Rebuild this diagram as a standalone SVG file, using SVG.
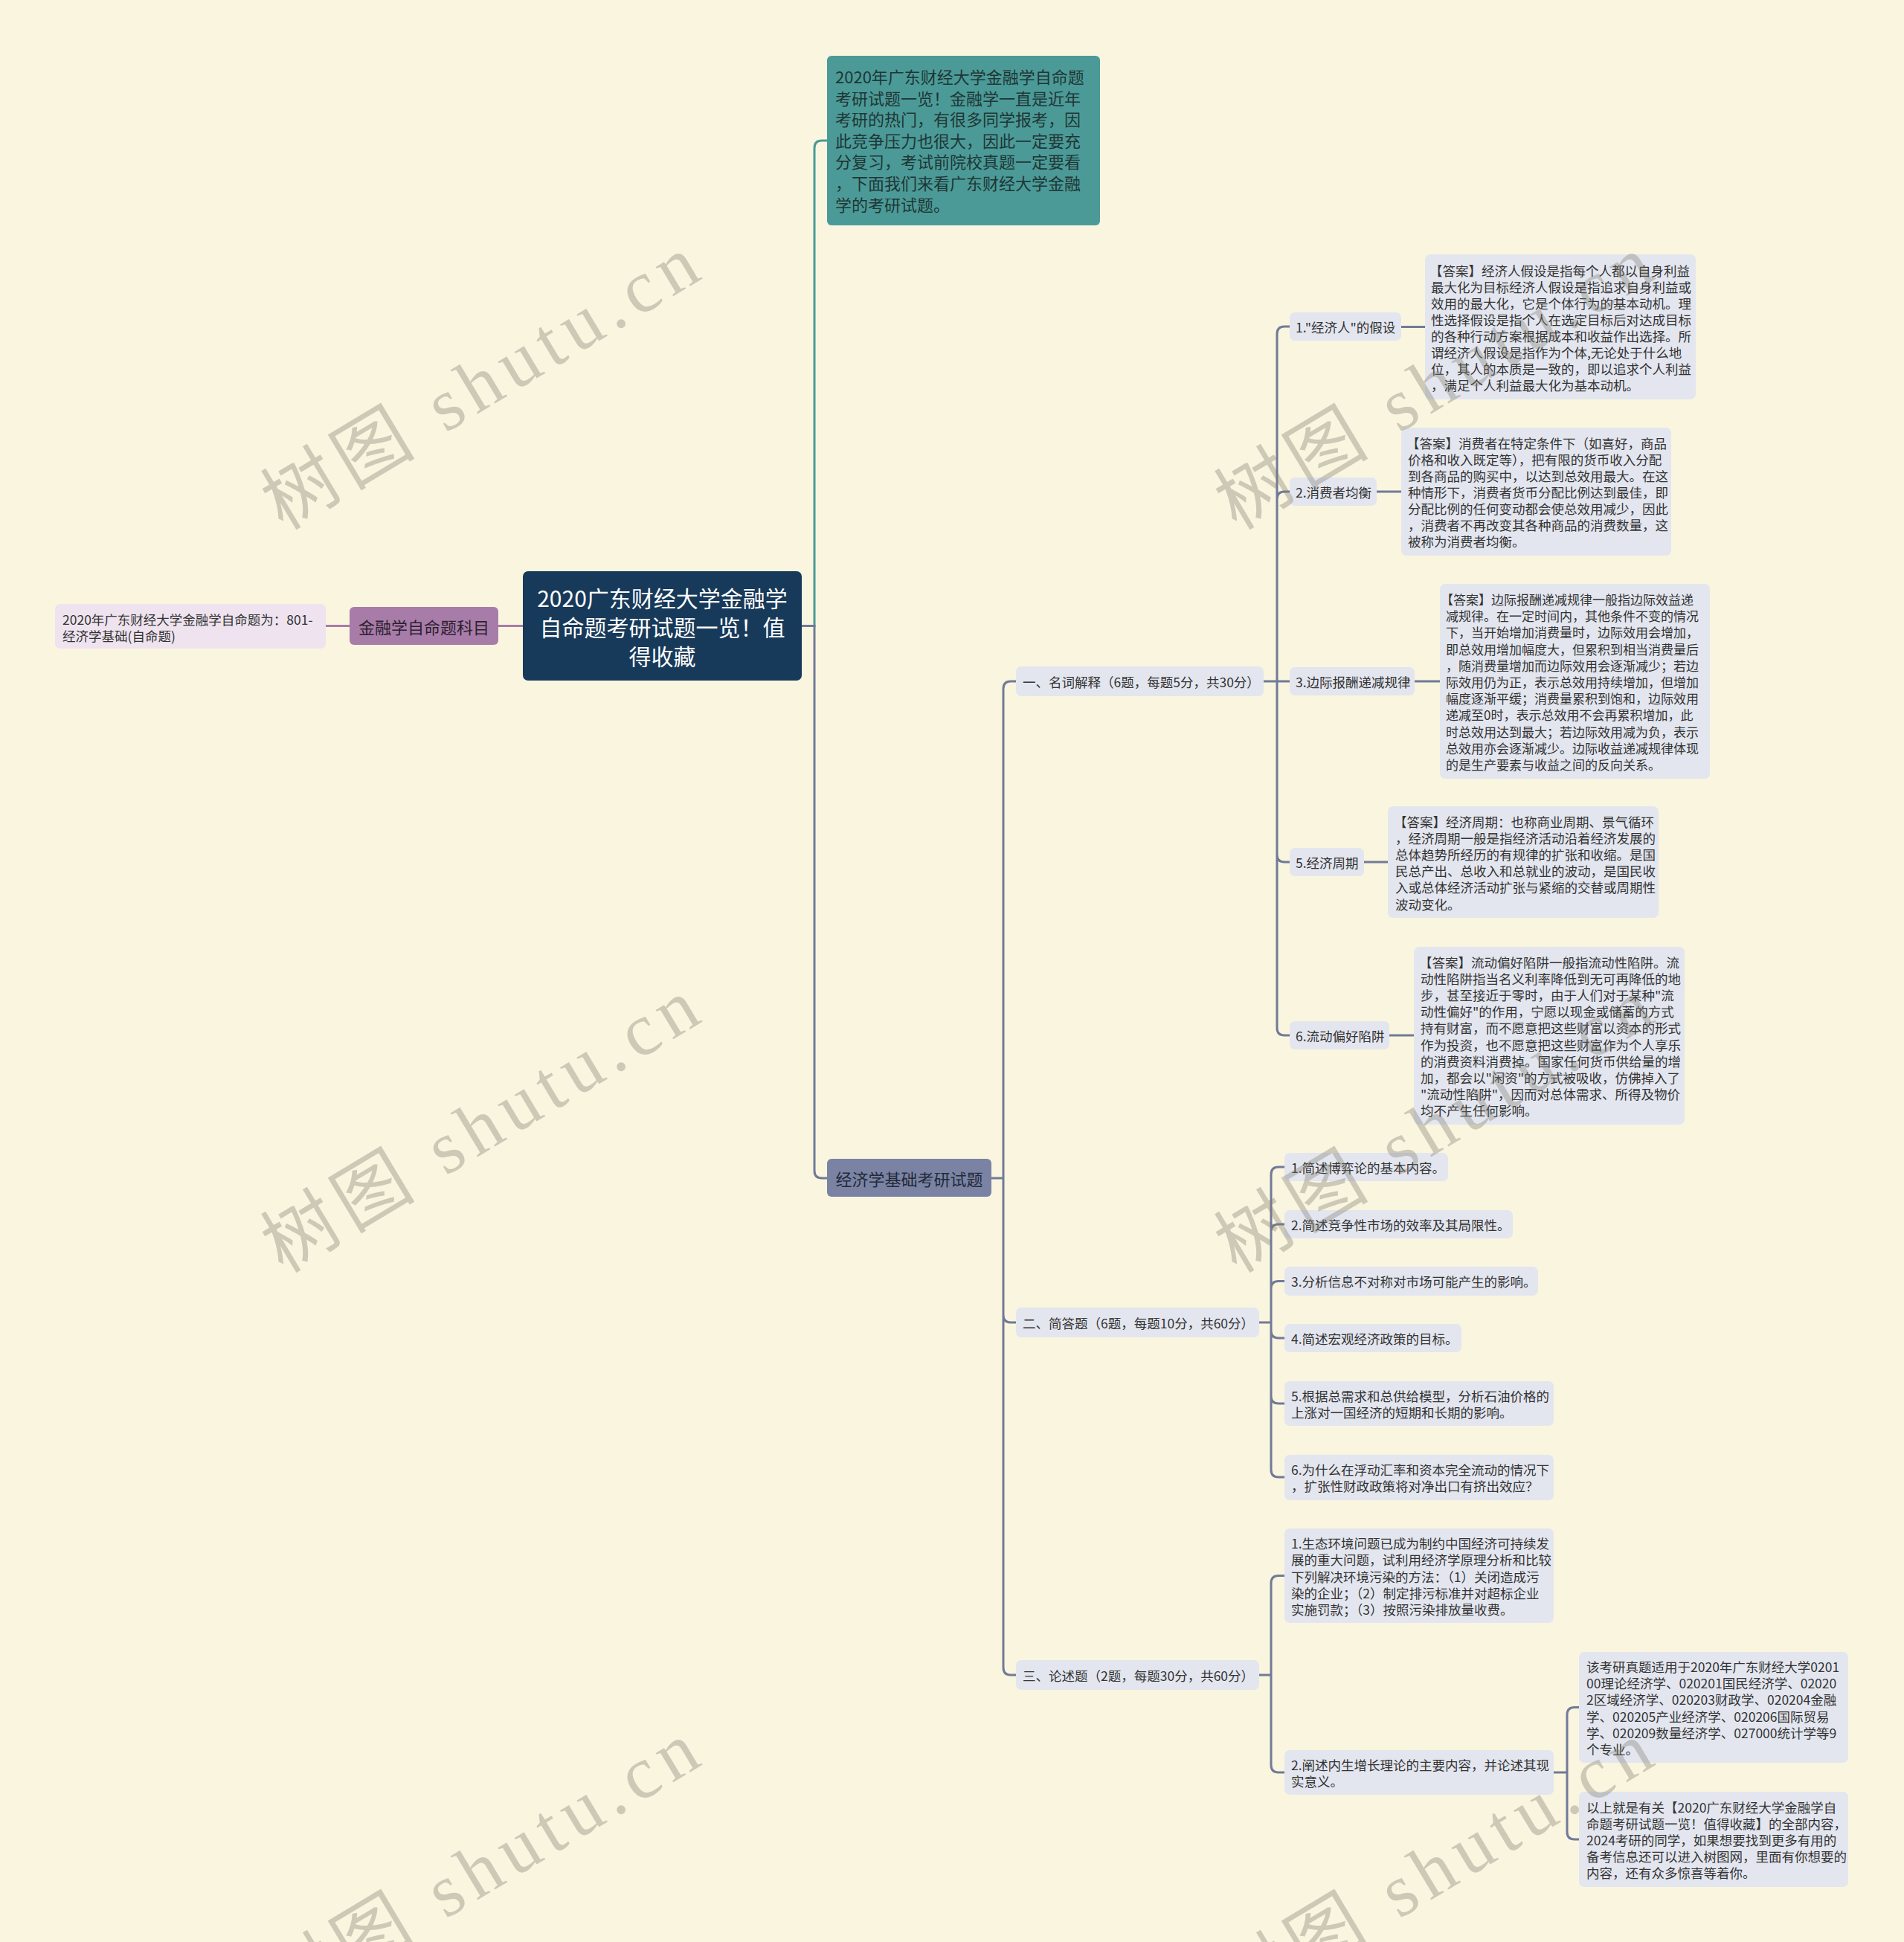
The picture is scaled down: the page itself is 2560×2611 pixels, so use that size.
<svg xmlns="http://www.w3.org/2000/svg" width="2560" height="2611" viewBox="0 0 2560 2611">
<style>
.t{font-family:"Noto Sans CJK SC","Noto Sans",sans-serif;dominant-baseline:central}
.sm{font-size:17.5px;fill:#333}
.leaf{fill:#e3e6ef}
.c{fill:none;stroke-width:3;stroke-linecap:round}
.s{stroke:#717a97}
.wm{font-family:"Liberation Serif","Noto Sans CJK SC",serif;font-size:100px;fill:#7d7a70;opacity:0.35;text-anchor:middle;dominant-baseline:central}
</style>
<rect width="2560" height="2611" fill="#faf5df"/>

<g id="connectors">
<path class="c" stroke="#a87ca9" d="M703,841.5 H670 M470,841.5 H438"/>
<path class="c" stroke="#4a9a96" d="M1078,841.5 H1095 V199 Q1095,189 1105,189 H1112"/>
<path class="c s" d="M1078,841.5 H1095 V1574 Q1095,1584 1105,1584 H1112"/>
<path class="c s" d="M1333,1584 H1349 V926 Q1349,916 1359,916 H1366 M1349,1584 V1768 Q1349,1778 1359,1778 H1366 M1349,1584 V2242 Q1349,2252 1359,2252 H1366"/>
<path class="c s" d="M1699,916 H1717 V449 Q1717,439 1727,439 H1734 M1717,916 V671 Q1717,661 1727,661 H1734 M1717,916 H1734 M1717,916 V1149 Q1717,1159 1727,1159 H1734 M1717,916 V1382 Q1717,1392 1727,1392 H1734"/>
<path class="c s" d="M1884,439.5 H1916 M1851,661 H1884 M1902,916 H1936 M1834,1159 H1866 M1868,1392 H1901"/>
<path class="c s" d="M1693,1778 H1709 V1579 Q1709,1569 1719,1569 H1727 M1709,1778 V1656 Q1709,1646 1719,1646 H1727 M1709,1778 V1732.5 Q1709,1722.5 1719,1722.5 H1727 M1709,1778 V1789 Q1709,1799 1719,1799 H1727 M1709,1778 V1877 Q1709,1887 1719,1887 H1727 M1709,1778 V1976 Q1709,1986 1719,1986 H1727"/>
<path class="c s" d="M1693,2252 H1709 V2128.5 Q1709,2118.5 1719,2118.5 H1727 M1709,2252 V2373 Q1709,2383 1719,2383 H1727"/>
<path class="c s" d="M2089,2383 H2107 V2305.5 Q2107,2295.5 2117,2295.5 H2123 M2107,2383 V2463 Q2107,2473 2117,2473 H2123"/>
</g>

<g id="root">
<rect x="703" y="768" width="375" height="147" rx="7" fill="#183a5a"/>
<text class="t" font-size="30" fill="#fff" text-anchor="middle"><tspan x="890.5" y="803">2020广东财经大学金融学</tspan><tspan x="890.5" y="842">自命题考研试题一览！值</tspan><tspan x="890.5" y="881">得收藏</tspan></text>
</g>

<g id="intro">
<rect x="1112" y="75" width="367" height="228" rx="6" fill="#4b9a97"/>
<text class="t" font-size="22" fill="#1f3636"><tspan x="1123" y="102">2020年广东财经大学金融学自命题</tspan><tspan x="1123" y="130.6">考研试题一览！金融学一直是近年</tspan><tspan x="1123" y="159.2">考研的热门，有很多同学报考，因</tspan><tspan x="1123" y="187.8">此竞争压力也很大，因此一定要充</tspan><tspan x="1123" y="216.4">分复习，考试前院校真题一定要看</tspan><tspan x="1123" y="245">，下面我们来看广东财经大学金融</tspan><tspan x="1123" y="273.6">学的考研试题。</tspan></text>
</g>

<g id="left-topic">
<rect x="470" y="816" width="200" height="51" rx="6" fill="#a87ca9"/>
<text class="t" font-size="22" fill="#2d1f30" x="570" y="841.5" text-anchor="middle">金融学自命题科目</text>
</g>
<g id="left-leaf">
<rect x="74" y="812" width="364" height="60" rx="7" fill="#eee3ef"/>
<text class="t sm"><tspan x="84" y="832">2020年广东财经大学金融学自命题为：801-</tspan><tspan x="84" y="853.5">经济学基础(自命题)</tspan></text>
</g>

<g id="econ">
<rect x="1112" y="1558" width="221" height="51" rx="6" fill="#7a83a3"/>
<text class="t" font-size="22" fill="#222a3a" x="1222.5" y="1584" text-anchor="middle">经济学基础考研试题</text>
</g>

<g id="sec1">
<rect class="leaf" x="1366" y="896" width="333" height="40" rx="7"/>
<text class="t sm" x="1375" y="916">一、名词解释（6题，每题5分，共30分）</text>
</g>
<g id="sec2">
<rect class="leaf" x="1366" y="1758" width="327" height="40" rx="7"/>
<text class="t sm" x="1375" y="1778">二、简答题（6题，每题10分，共60分）</text>
</g>
<g id="sec3">
<rect class="leaf" x="1366" y="2232" width="327" height="40" rx="7"/>
<text class="t sm" x="1375" y="2252">三、论述题（2题，每题30分，共60分）</text>
</g>

<g id="term1">
<rect class="leaf" x="1734" y="420" width="150" height="38" rx="7"/>
<text class="t sm" x="1742" y="439.5">1."经济人"的假设</text>
</g>
<g id="ans1">
<rect class="leaf" x="1916" y="342" width="364" height="195" rx="7"/>
<text class="t sm"><tspan x="1922" y="363">【答案】经济人假设是指每个人都以自身利益</tspan><tspan x="1924" y="385">最大化为目标经济人假设是指追求自身利益或</tspan><tspan x="1924" y="407">效用的最大化，它是个体行为的基本动机。理</tspan><tspan x="1924" y="429">性选择假设是指个人在选定目标后对达成目标</tspan><tspan x="1924" y="451">的各种行动方案根据成本和收益作出选择。所</tspan><tspan x="1924" y="473">谓经济人假设是指作为个体,无论处于什么地</tspan><tspan x="1924" y="495">位，其人的本质是一致的，即以追求个人利益</tspan><tspan x="1924" y="517">，满足个人利益最大化为基本动机。</tspan></text>
</g>

<g id="term2">
<rect class="leaf" x="1734" y="642" width="117" height="38" rx="7"/>
<text class="t sm" x="1742" y="661">2.消费者均衡</text>
</g>
<g id="ans2">
<rect class="leaf" x="1884" y="575" width="363" height="172" rx="7"/>
<text class="t sm"><tspan x="1891" y="595">【答案】消费者在特定条件下（如喜好，商品</tspan><tspan x="1893" y="617">价格和收入既定等），把有限的货币收入分配</tspan><tspan x="1893" y="639">到各商品的购买中，以达到总效用最大。在这</tspan><tspan x="1893" y="661">种情形下，消费者货币分配比例达到最佳，即</tspan><tspan x="1893" y="683">分配比例的任何变动都会使总效用减少，因此</tspan><tspan x="1893" y="705">，消费者不再改变其各种商品的消费数量，这</tspan><tspan x="1893" y="727">被称为消费者均衡。</tspan></text>
</g>

<g id="term3">
<rect class="leaf" x="1734" y="897" width="168" height="38" rx="7"/>
<text class="t sm" x="1742" y="916">3.边际报酬递减规律</text>
</g>
<g id="ans3">
<rect class="leaf" x="1936" y="785" width="363" height="262" rx="7"/>
<text class="t" font-size="17" fill="#333"><tspan x="1937" y="805">【答案】边际报酬递减规律一般指边际效益递</tspan><tspan x="1944" y="827.2">减规律。在一定时间内，其他条件不变的情况</tspan><tspan x="1944" y="849.4">下，当开始增加消费量时，边际效用会增加，</tspan><tspan x="1944" y="871.6">即总效用增加幅度大，但累积到相当消费量后</tspan><tspan x="1944" y="893.8">，随消费量增加而边际效用会逐渐减少；若边</tspan><tspan x="1944" y="916">际效用仍为正，表示总效用持续增加，但增加</tspan><tspan x="1944" y="938.2">幅度逐渐平缓；消费量累积到饱和，边际效用</tspan><tspan x="1944" y="960.4">递减至0时，表示总效用不会再累积增加，此</tspan><tspan x="1944" y="982.6">时总效用达到最大；若边际效用减为负，表示</tspan><tspan x="1944" y="1004.8">总效用亦会逐渐减少。边际收益递减规律体现</tspan><tspan x="1944" y="1027">的是生产要素与收益之间的反向关系。</tspan></text>
</g>

<g id="term5">
<rect class="leaf" x="1734" y="1140" width="100" height="38" rx="7"/>
<text class="t sm" x="1742" y="1159">5.经济周期</text>
</g>
<g id="ans5">
<rect class="leaf" x="1866" y="1084" width="364" height="150" rx="7"/>
<text class="t sm"><tspan x="1874" y="1103.5">【答案】经济周期：也称商业周期、景气循环</tspan><tspan x="1876" y="1125.7">，经济周期一般是指经济活动沿着经济发展的</tspan><tspan x="1876" y="1147.9">总体趋势所经历的有规律的扩张和收缩。是国</tspan><tspan x="1876" y="1170.1">民总产出、总收入和总就业的波动，是国民收</tspan><tspan x="1876" y="1192.3">入或总体经济活动扩张与紧缩的交替或周期性</tspan><tspan x="1876" y="1214.5">波动变化。</tspan></text>
</g>

<g id="term6">
<rect class="leaf" x="1734" y="1373" width="134" height="38" rx="7"/>
<text class="t sm" x="1742" y="1392">6.流动偏好陷阱</text>
</g>
<g id="ans6">
<rect class="leaf" x="1901" y="1273" width="364" height="239" rx="7"/>
<text class="t sm"><tspan x="1908" y="1292.6">【答案】流动偏好陷阱一般指流动性陷阱。流</tspan><tspan x="1910" y="1314.8">动性陷阱指当名义利率降低到无可再降低的地</tspan><tspan x="1910" y="1337">步，甚至接近于零时，由于人们对于某种"流</tspan><tspan x="1910" y="1359.2">动性偏好"的作用，宁愿以现金或储蓄的方式</tspan><tspan x="1910" y="1381.4">持有财富，而不愿意把这些财富以资本的形式</tspan><tspan x="1910" y="1403.6">作为投资，也不愿意把这些财富作为个人享乐</tspan><tspan x="1910" y="1425.8">的消费资料消费掉。国家任何货币供给量的增</tspan><tspan x="1910" y="1448">加，都会以"闲资"的方式被吸收，仿佛掉入了</tspan><tspan x="1910" y="1470.2">"流动性陷阱"，因而对总体需求、所得及物价</tspan><tspan x="1910" y="1492.4">均不产生任何影响。</tspan></text>
</g>

<g id="q1">
<rect class="leaf" x="1727" y="1550" width="220" height="38" rx="7"/>
<text class="t sm" x="1736" y="1569">1.简述博弈论的基本内容。</text>
</g>
<g id="q2">
<rect class="leaf" x="1727" y="1627" width="307" height="38" rx="7"/>
<text class="t sm" x="1736" y="1646">2.简述竞争性市场的效率及其局限性。</text>
</g>
<g id="q3">
<rect class="leaf" x="1727" y="1703" width="341" height="39" rx="7"/>
<text class="t sm" x="1736" y="1722.5">3.分析信息不对称对市场可能产生的影响。</text>
</g>
<g id="q4">
<rect class="leaf" x="1727" y="1780" width="238" height="38" rx="7"/>
<text class="t sm" x="1736" y="1799">4.简述宏观经济政策的目标。</text>
</g>
<g id="q5">
<rect class="leaf" x="1727" y="1857" width="362" height="60" rx="7"/>
<text class="t sm"><tspan x="1736" y="1876">5.根据总需求和总供给模型，分析石油价格的</tspan><tspan x="1736" y="1898">上涨对一国经济的短期和长期的影响。</tspan></text>
</g>
<g id="q6">
<rect class="leaf" x="1727" y="1956" width="362" height="61" rx="7"/>
<text class="t sm"><tspan x="1736" y="1975">6.为什么在浮动汇率和资本完全流动的情况下</tspan><tspan x="1736" y="1997">，扩张性财政政策将对净出口有挤出效应？</tspan></text>
</g>

<g id="e1">
<rect class="leaf" x="1727" y="2055" width="362" height="127" rx="7"/>
<text class="t sm"><tspan x="1736" y="2074.1">1.生态环境问题已成为制约中国经济可持续发</tspan><tspan x="1736" y="2096.3">展的重大问题，试利用经济学原理分析和比较</tspan><tspan x="1736" y="2118.5">下列解决环境污染的方法：（1）关闭造成污</tspan><tspan x="1736" y="2140.7">染的企业；（2）制定排污标准并对超标企业</tspan><tspan x="1736" y="2162.9">实施罚款；（3）按照污染排放量收费。</tspan></text>
</g>
<g id="e2">
<rect class="leaf" x="1727" y="2353" width="362" height="60" rx="7"/>
<text class="t sm"><tspan x="1736" y="2372">2.阐述内生增长理论的主要内容，并论述其现</tspan><tspan x="1736" y="2394">实意义。</tspan></text>
</g>
<g id="e2a">
<rect class="leaf" x="2123" y="2221" width="362" height="149" rx="7"/>
<text class="t sm"><tspan x="2133" y="2240">该考研真题适用于2020年广东财经大学0201</tspan><tspan x="2133" y="2262.2">00理论经济学、020201国民经济学、02020</tspan><tspan x="2133" y="2284.4">2区域经济学、020203财政学、020204金融</tspan><tspan x="2133" y="2306.6">学、020205产业经济学、020206国际贸易</tspan><tspan x="2133" y="2328.8">学、020209数量经济学、027000统计学等9</tspan><tspan x="2133" y="2351">个专业。</tspan></text>
</g>
<g id="e2b">
<rect class="leaf" x="2123" y="2409" width="362" height="128" rx="7"/>
<text class="t sm"><tspan x="2133" y="2428.6">以上就是有关【2020广东财经大学金融学自</tspan><tspan x="2133" y="2450.8">命题考研试题一览！值得收藏】的全部内容，</tspan><tspan x="2133" y="2473">2024考研的同学，如果想要找到更多有用的</tspan><tspan x="2133" y="2495.2">备考信息还可以进入树图网，里面有你想要的</tspan><tspan x="2133" y="2517.4">内容，还有众多惊喜等着你。</tspan></text>
</g>

<g id="watermarks">
<text class="wm" x="646" y="515" transform="rotate(-31 646 515)" textLength="660" lengthAdjust="spacing">树图 shutu.cn</text>
<text class="wm" x="1928" y="515" transform="rotate(-31 1928 515)" textLength="660" lengthAdjust="spacing">树图 shutu.cn</text>
<text class="wm" x="646" y="1514" transform="rotate(-31 646 1514)" textLength="660" lengthAdjust="spacing">树图 shutu.cn</text>
<text class="wm" x="1928" y="1514" transform="rotate(-31 1928 1514)" textLength="660" lengthAdjust="spacing">树图 shutu.cn</text>
<text class="wm" x="646" y="2513" transform="rotate(-31 646 2513)" textLength="660" lengthAdjust="spacing">树图 shutu.cn</text>
<text class="wm" x="1928" y="2513" transform="rotate(-31 1928 2513)" textLength="660" lengthAdjust="spacing">树图 shutu.cn</text>
</g>
</svg>
